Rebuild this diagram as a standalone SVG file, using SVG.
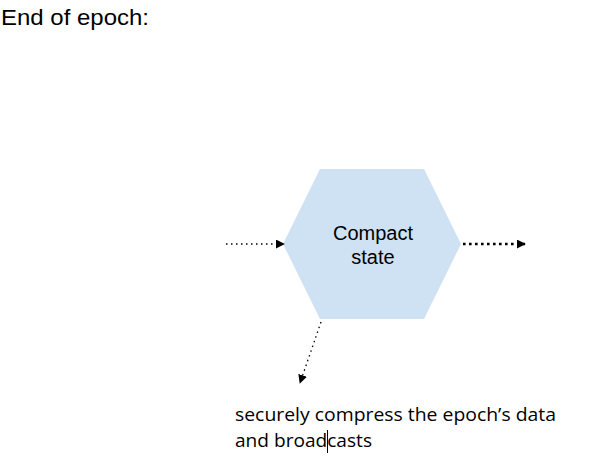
<svg xmlns="http://www.w3.org/2000/svg" width="606" height="465" viewBox="0 0 606 465">
<style>
.t{font-family:"Liberation Sans",Arial,sans-serif;fill:#000}
.c{font-family:"Open Sans","Liberation Sans",sans-serif;fill:#000}
.d{stroke:#000;stroke-width:1.3;stroke-dasharray:1.5 3.5;fill:none}
.b{stroke-width:2.6;stroke-dasharray:2.6 3.4}
</style>
<defs>
<marker id="ah" viewBox="0 0 10 10" refX="9" refY="5" markerWidth="9" markerHeight="9" markerUnits="userSpaceOnUse" orient="auto"><path d="M0,0 L10,5 L0,10 z" fill="#000"/></marker>
</defs>
<rect width="606" height="465" fill="#fff"/>
<text class="t" x="1" y="25" font-size="22" textLength="148" lengthAdjust="spacingAndGlyphs">End of epoch:</text>
<g id="compact-state">
<polygon points="320,169 424,169 461,244 424,319 320,319 283,244" fill="#cfe2f3"/>
<text class="t" x="373" y="240" font-size="20" text-anchor="middle">Compact</text>
<text class="t" x="373" y="264" font-size="20" text-anchor="middle">state</text>
</g>
<g id="connectors">
<line class="d" x1="226" y1="244" x2="284" y2="244" marker-end="url(#ah)"/>
<line class="d b" x1="463" y1="244" x2="525" y2="244" marker-end="url(#ah)"/>
<line class="d" x1="321" y1="322" x2="300" y2="383" marker-end="url(#ah)"/>
</g>
<g id="caption">
<text class="c" x="235" y="421" font-size="18.5" textLength="321" lengthAdjust="spacingAndGlyphs">securely compress the epoch’s data</text>
<text class="c" x="235" y="447" font-size="18.5" textLength="137" lengthAdjust="spacingAndGlyphs">and broadcasts</text>
<line x1="327.5" y1="430" x2="327.5" y2="453" stroke="#000" stroke-width="1"/>
</g>
</svg>
